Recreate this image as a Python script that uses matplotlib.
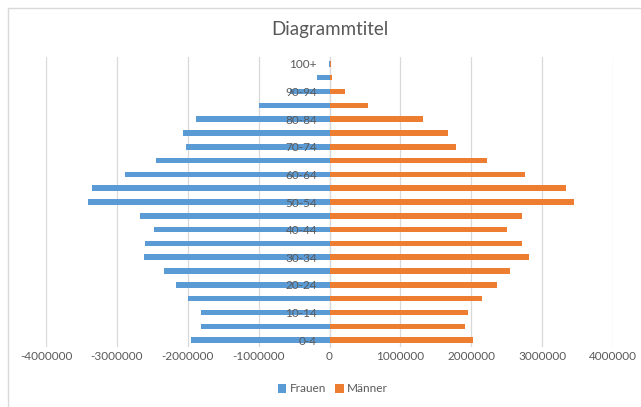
import matplotlib
matplotlib.use("Agg")
import matplotlib.pyplot as plt
from matplotlib.patches import Rectangle
from matplotlib.ticker import FixedLocator, FuncFormatter

plt.rcParams["font.family"] = ["Lato", "DejaVu Sans"]

# Altersgruppen (von jung nach alt)
age_groups = ["0-4", "5-9", "10-14", "15-19", "20-24", "25-29", "30-34",
              "35-39", "40-44", "45-49", "50-54", "55-59", "60-64", "65-69",
              "70-74", "75-79", "80-84", "85-89", "90-94", "95-99", "100+"]

# Frauen als negative Werte (linke Seite der Pyramide)
frauen = [-1950000, -1810000, -1820000, -2000000, -2170000, -2330000, -2620000,
          -2610000, -2470000, -2680000, -3410000, -3350000, -2890000, -2450000,
          -2030000, -2070000, -1880000, -990000, -560000, -175000, -8000]
maenner = [2030000, 1910000, 1950000, 2150000, 2360000, 2540000, 2810000,
           2710000, 2510000, 2720000, 3450000, 3340000, 2760000, 2220000,
           1780000, 1670000, 1320000, 550000, 220000, 38000, 20000]

x_ticks = [-4000000, -3000000, -2000000, -1000000, 0,
           1000000, 2000000, 3000000, 4000000]

title = "Diagrammtitel"
series_names = ["Frauen", "Männer"]

blue = "#5B9BD5"
orange = "#ED7D31"
grey_text = "#595959"
grid_col = "#D9D9D9"

fig = plt.figure(figsize=(6.41, 4.07), dpi=100)
W, H = 641, 407

# Rahmen des Diagrammbereichs
fig.patches.append(Rectangle((8 / W, -0.1), 1.2, 1 - 8 / H + 0.1,
                             transform=fig.transFigure, fill=False,
                             edgecolor=grid_col, linewidth=1.0))

ax = fig.add_axes([46 / W, 60 / H, (613 - 46) / W, (347 - 57) / H])

y = list(range(len(age_groups)))
ax.barh(y, frauen, height=0.4, color=blue, zorder=2, label=series_names[0])
ax.barh(y, maenner, height=0.4, color=orange, zorder=2, label=series_names[1])

ax.set_xlim(x_ticks[0], x_ticks[-1])
ax.set_ylim(-0.5, len(age_groups) - 0.5)

ax.xaxis.set_major_locator(FixedLocator(x_ticks))
ax.xaxis.set_major_formatter(FuncFormatter(lambda v, p: f"{int(v)}"))
ax.grid(axis="x", color=grid_col, linewidth=0.9)
ax.grid(axis="y", visible=False)
ax.xaxis.set_zorder(0.5)
ax.yaxis.set_zorder(5)
ax.tick_params(axis="x", length=0, pad=3, labelsize=8.5, labelcolor=grey_text)

# Kategorienbeschriftung an der senkrechten Achse bei 0, jede zweite Gruppe
ax.set_yticks(y[::2])
ax.set_yticklabels(age_groups[::2])
ax.tick_params(axis="y", length=0, pad=9, labelsize=8.5, labelcolor=grey_text)

for s in ["top", "right", "bottom"]:
    ax.spines[s].set_visible(False)
ax.spines["left"].set_position(("data", 0))
ax.spines["left"].set_color(grid_col)
ax.spines["left"].set_linewidth(0.9)
ax.spines["left"].set_zorder(1.5)

fig.text(330 / W, 1 - 30 / H, title, ha="center", va="center",
         fontsize=13.5, color=grey_text)

fig.legend(loc="center", bbox_to_anchor=(333 / W, 1 - 389 / H), ncol=2,
           frameon=False, fontsize=8.5, labelcolor=grey_text,
           handlelength=0.7, handleheight=0.7, handletextpad=0.3,
           columnspacing=0.8)

fig.savefig("out.png", dpi=100)
